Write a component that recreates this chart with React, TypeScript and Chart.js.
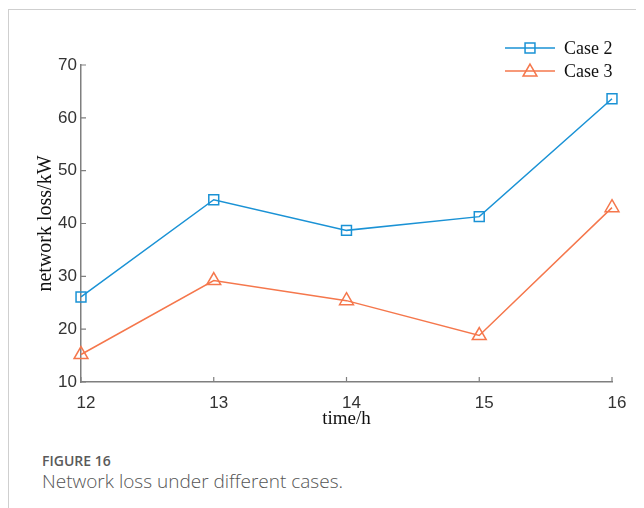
import React, { useEffect, useRef } from "react";
import { Chart, registerables } from "chart.js";

Chart.register(...registerables);

const hours = ["12", "13", "14", "15", "16"];
const case2 = [26.1, 44.5, 38.7, 41.3, 63.6];
const case3 = [15.2, 29.2, 25.4, 18.8, 43.0];
const seriesNames = ["Case 2", "Case 3"];
const yMin = 10;
const yMax = 70;
const yStep = 10;

const BLUE = "#1a92d5";
const ORANGE = "#f5774c";
const AXIS = "#7f7f7f";

const inwardTicks = {
  id: "inwardTicks",
  afterDraw(chart: any) {
    const { ctx } = chart;
    const xs = chart.scales.x;
    const ys = chart.scales.y;
    const area = chart.chartArea;
    ctx.save();
    ctx.strokeStyle = AXIS;
    ctx.lineWidth = 1.2;
    ctx.beginPath();
    ys.ticks.forEach((_t: any, i: number) => {
      const p = ys.getPixelForTick(i);
      ctx.moveTo(area.left, p);
      ctx.lineTo(area.left + 5, p);
    });
    xs.ticks.forEach((_t: any, i: number) => {
      const p = xs.getPixelForTick(i);
      ctx.moveTo(p, area.bottom);
      ctx.lineTo(p, area.bottom - 5);
    });
    ctx.stroke();
    ctx.restore();
  },
};

function drawMarker(ctx: CanvasRenderingContext2D, style: string, x: number, y: number, r: number) {
  ctx.beginPath();
  if (style === "rect") {
    const s = Math.SQRT1_2 * r;
    ctx.rect(x - s, y - s, 2 * s, 2 * s);
  } else {
    let rad = 0;
    ctx.moveTo(x + Math.sin(rad) * r, y - Math.cos(rad) * r);
    rad += (2 * Math.PI) / 3;
    ctx.lineTo(x + Math.sin(rad) * r, y - Math.cos(rad) * r);
    rad += (2 * Math.PI) / 3;
    ctx.lineTo(x + Math.sin(rad) * r, y - Math.cos(rad) * r);
    ctx.closePath();
  }
  ctx.stroke();
}

const customLegend = {
  id: "customLegend",
  afterDraw(chart: any) {
    const { ctx } = chart;
    ctx.save();
    chart.data.datasets.forEach((ds: any, i: number) => {
      const y = 38 + 23 * i;
      ctx.strokeStyle = ds.borderColor;
      ctx.lineWidth = 1.5;
      ctx.beginPath();
      ctx.moveTo(496, y);
      ctx.lineTo(546, y);
      ctx.stroke();
      drawMarker(ctx, ds.pointStyle, 521, y + (ds.pointStyle === "triangle" ? 1 : 0), ds.pointRadius);
      ctx.fillStyle = "#111";
      ctx.font = '18px "Liberation Serif", serif';
      ctx.textBaseline = "middle";
      ctx.textAlign = "left";
      ctx.fillText(ds.label, 555, y + 1);
    });
    ctx.restore();
  },
};

export default function App() {
  const ref = useRef<HTMLCanvasElement>(null);
  useEffect(() => {
    if (!ref.current) return;
    const chart = new Chart(ref.current, {
      type: "line",
      data: {
        labels: hours,
        datasets: [
          {
            label: seriesNames[0],
            data: case2,
            borderColor: BLUE,
            backgroundColor: "rgba(0,0,0,0)",
            borderWidth: 1.5,
            pointStyle: "rect",
            pointRadius: 7,
            pointBorderWidth: 1.5,
            pointBorderColor: BLUE,
            pointBackgroundColor: "rgba(0,0,0,0)",
            tension: 0,
            clip: false,
          } as any,
          {
            label: seriesNames[1],
            data: case3,
            borderColor: ORANGE,
            backgroundColor: "rgba(0,0,0,0)",
            borderWidth: 1.5,
            pointStyle: "triangle",
            pointRadius: 8,
            pointBorderWidth: 1.5,
            pointBorderColor: ORANGE,
            pointBackgroundColor: "rgba(0,0,0,0)",
            tension: 0,
            clip: false,
          } as any,
        ],
      },
      options: {
        animation: false,
        responsive: false,
        maintainAspectRatio: false,
        layout: { padding: { top: 55, right: 32, left: 0, bottom: 0 } },
        plugins: {
          legend: { display: false },
          tooltip: { enabled: false },
        },
        scales: {
          x: {
            type: "category",
            offset: false,
            grid: { display: false, drawTicks: false },
            border: { display: true, color: AXIS, width: 1.5 },
            ticks: {
              color: "#333",
              font: { family: '"Liberation Sans", Arial, sans-serif', size: 17 },
              padding: 11,
              labelOffset: 5,
              maxRotation: 0,
            },
            title: {
              display: true,
              text: "time/h",
              color: "#111",
              font: { family: '"Liberation Serif", serif', size: 19 },
              padding: { top: 0, bottom: 10 },
            },
            afterFit(scale: any) {
              scale.height = 58;
            },
          },
          y: {
            min: yMin,
            max: yMax,
            grid: { display: false, drawTicks: false },
            border: { display: true, color: AXIS, width: 1.5 },
            ticks: {
              stepSize: yStep,
              color: "#333",
              font: { family: '"Liberation Sans", Arial, sans-serif', size: 17 },
              padding: 4,
            },
            title: {
              display: true,
              text: "network loss/kW",
              color: "#111",
              font: { family: '"Liberation Serif", serif', size: 20 },
              padding: { top: 25, bottom: 0 },
            },
            afterFit(scale: any) {
              scale.width = 72;
            },
          },
        },
      },
      plugins: [inwardTicks, customLegend],
    });
    return () => chart.destroy();
  }, []);

  return (
    <div
      style={{
        position: "relative",
        width: 636,
        height: 500,
        marginTop: 1,
        borderTop: "1px solid #cfcfcf",
        borderLeft: "1px solid #cfcfcf",
        boxSizing: "border-box",
      }}
    >
      <canvas
        ref={ref}
        width={635}
        height={430}
        style={{ position: "absolute", left: 0, top: 0, width: 635, height: 430 }}
      />
      <div
        style={{
          position: "absolute",
          left: 33,
          top: 441,
          fontFamily: '"Open Sans", "Noto Sans", sans-serif',
          color: "#555",
        }}
      >
        <div style={{ fontSize: 14, fontWeight: 600, lineHeight: "20px", color: "#5a5a5a" }}>FIGURE 16</div>
        <div style={{ fontSize: 19, lineHeight: "21px", fontWeight: 300 }}>Network loss under different cases.</div>
      </div>
    </div>
  );
}
